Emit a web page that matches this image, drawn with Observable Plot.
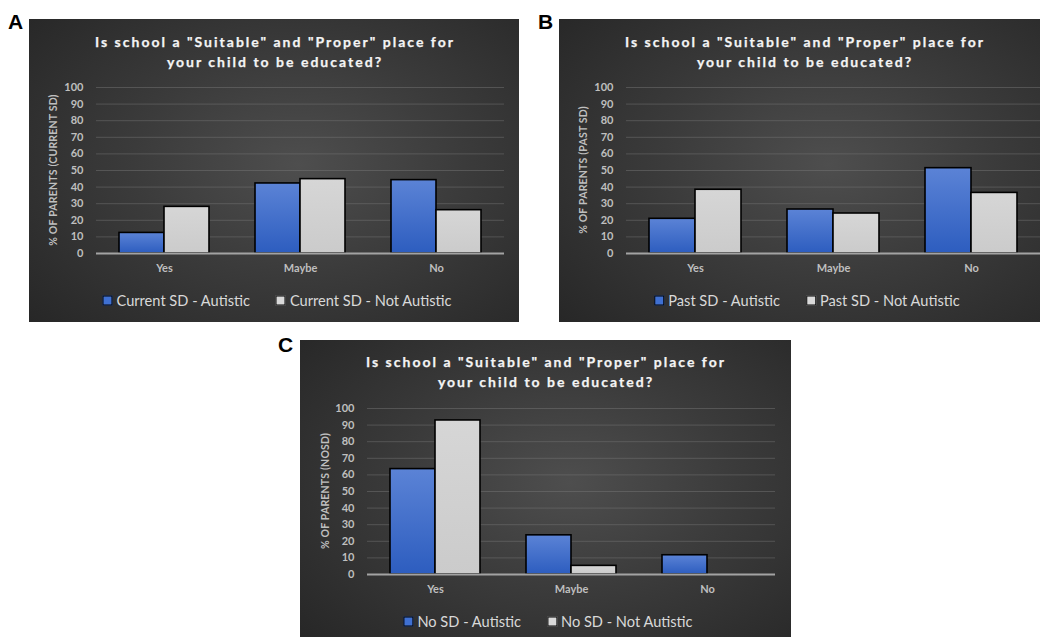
<!DOCTYPE html>
<html>
<head>
<meta charset="utf-8">
<script src="https://cdn.jsdelivr.net/npm/d3@7"></script>
<script src="https://cdn.jsdelivr.net/npm/@observablehq/plot@0.6"></script>
<style>
  html, body { margin: 0; padding: 0; background: #ffffff; }
  body { width: 1040px; height: 637px; overflow: hidden; position: relative; font-family: Lato, "Open Sans", sans-serif; }
  .tag { position: absolute; font-family: "Liberation Sans", Arial, sans-serif; font-weight: bold; font-size: 21px; color: #000; line-height: 1; }
  .panel { position: absolute; overflow: hidden;
    background: radial-gradient(ellipse 75% 80% at 55% 48%, #4e4e4e 0%, #3b3b3b 45%, #262626 100%); }
  .panel svg { position: absolute; left: 0; top: 0; overflow: visible; }
  .title { position: absolute; left: 0; text-align: center; color: #f4f4f4; font-weight: bold; font-size: 14px; line-height: 19.5px; white-space: nowrap; -webkit-text-stroke: 0.25px #f4f4f4; }
  .ylab { position: absolute; color: #bfbfbf; font-weight: bold; font-size: 10.5px; white-space: nowrap; transform: translate(-50%, -50%) rotate(-90deg); }
  .legend { position: absolute; display: flex; align-items: center; color: #d9d9d9; white-space: nowrap; transform: translate(-50%, -50%); }
  .legend .item { display: flex; align-items: center; }
  .legend .sw { width: 8px; height: 8px; border: 1.5px solid #000; margin-right: 4px; }
</style>
</head>
<body>
<svg width="0" height="0" style="position:absolute">
  <defs>
    <linearGradient id="blueGrad" x1="0" y1="0" x2="0" y2="1">
      <stop offset="0" stop-color="#5b83d6"/>
      <stop offset="1" stop-color="#2d5dbf"/>
    </linearGradient>
    <linearGradient id="grayGrad" x1="0" y1="0" x2="0" y2="1">
      <stop offset="0" stop-color="#d6d6d6"/>
      <stop offset="1" stop-color="#cbcbcb"/>
    </linearGradient>
  </defs>
</svg>
<script>
// ---- data ----
const categories = ["Yes", "Maybe", "No"];
const yTicks = [0, 10, 20, 30, 40, 50, 60, 70, 80, 90, 100];
const titleLines = ['Is school a "Suitable" and "Proper" place for', 'your child to be educated?'];

const currentAutistic = [12.4, 42.2, 44.2];
const currentNotAutistic = [28.1, 44.8, 26.1];
const pastAutistic = [20.9, 26.5, 51.4];
const pastNotAutistic = [38.4, 24.1, 36.5];
const noSdAutistic = [63.5, 23.6, 11.6];
const noSdNotAutistic = [92.8, 5.2, 0];

const seriesA = ["Current SD - Autistic", "Current SD - Not Autistic"];
const seriesB = ["Past SD - Autistic", "Past SD - Not Autistic"];
const seriesC = ["No SD - Autistic", "No SD - Not Autistic"];
const yLabels = ["% OF PARENTS (CURRENT SD)", "% OF PARENTS (PAST SD)", "% OF PARENTS (NOSD)"];
const panelTags = ["A", "B", "C"];

// ---- layout ----
const panels = [
  {tag: panelTags[0], tagX: 8, tagY: 11, left: 29, top: 19, width: 490, height: 303, mL: 67, mR: 15, mT: 68, mB: 69,
   a: currentAutistic, n: currentNotAutistic, names: seriesA, yLabel: yLabels[0], legendY: 281, titleY: 13, ylabX: 24},
  {tag: panelTags[1], tagX: 538, tagY: 11, left: 559, top: 19, width: 490, height: 303, mL: 67, mR: 9, mT: 68, mB: 69,
   a: pastAutistic, n: pastNotAutistic, names: seriesB, yLabel: yLabels[1], legendY: 281, titleY: 13, ylabX: 24},
  {tag: panelTags[2], tagX: 278, tagY: 334, left: 300, top: 340, width: 491, height: 297, mL: 66, mR: 16, mT: 68, mB: 63,
   a: noSdAutistic, n: noSdNotAutistic, names: seriesC, yLabel: yLabels[2], legendY: 281, titleY: 12, ylabX: 25}
];

const canvas = document.createElement("canvas");
const ctx = canvas.getContext("2d");
function textWidth(t, font) { ctx.font = font; return ctx.measureText(t).width; }

// spacing for the vertical axis title, fitted so panel A's label spans ~152px
const ylabSpacing = (152 - textWidth(yLabels[0], "bold 10.5px Lato")) / yLabels[0].length;

for (const p of panels) {
  const tag = document.createElement("div");
  tag.className = "tag";
  tag.textContent = p.tag;
  tag.style.left = p.tagX + "px";
  tag.style.top = p.tagY + "px";
  document.body.appendChild(tag);

  const div = document.createElement("div");
  div.className = "panel";
  Object.assign(div.style, {left: p.left + "px", top: p.top + "px", width: p.width + "px", height: p.height + "px"});
  document.body.appendChild(div);

  const rows = [];
  categories.forEach((c, i) => {
    rows.push({category: c, series: "Autistic", value: p.a[i]});
    rows.push({category: c, series: "Not Autistic", value: p.n[i]});
  });

  const chart = Plot.plot({
    width: p.width,
    height: p.height,
    marginLeft: p.mL, marginRight: p.mR, marginTop: p.mT, marginBottom: p.mB,
    style: {background: "transparent", color: "#bfbfbf", fontFamily: "Lato, 'Open Sans', sans-serif", overflow: "visible"},
    fx: {domain: categories, padding: 0, label: null},
    x: {domain: ["Autistic", "Not Autistic"], paddingInner: 0, paddingOuter: 0.5, axis: null},
    y: {domain: [0, 100], label: null},
    marks: [
      Plot.ruleY(yTicks.filter(d => d > 0), {stroke: "#7a7a7a", strokeOpacity: 0.45, strokeWidth: 1}),
      Plot.barY(rows.filter(d => d.series === "Autistic"), {fx: "category", x: "series", y: "value", fill: "url(#blueGrad)", stroke: "#000", strokeWidth: 1.6}),
      Plot.barY(rows.filter(d => d.series === "Not Autistic"), {fx: "category", x: "series", y: "value", fill: "url(#grayGrad)", stroke: "#000", strokeWidth: 1.6}),
      Plot.ruleY([0], {stroke: "#a3a3a3", strokeWidth: 2}),
      Plot.axisY({ticks: yTicks, tickSize: 0, tickPadding: 13, label: null, fontSize: 11, fontWeight: "bold", fill: "#bfbfbf"}),
      Plot.axisFx({anchor: "bottom", tickSize: 0, tickPadding: 11, label: null, fontSize: 11, fontWeight: "bold", fill: "#bfbfbf"})
    ]
  });
  div.appendChild(chart);

  // title
  const title = document.createElement("div");
  title.className = "title";
  const natural = textWidth(titleLines[0], "bold 14px Lato");
  const spacing = (360 - natural) / titleLines[0].length;
  title.style.letterSpacing = spacing.toFixed(2) + "px";
  title.style.width = "492px";
  title.style.top = p.titleY + "px";
  title.innerHTML = titleLines.join("<br>");
  div.appendChild(title);

  // y label
  const yl = document.createElement("div");
  yl.className = "ylab";
  yl.textContent = p.yLabel;
  yl.style.letterSpacing = ylabSpacing.toFixed(2) + "px";
  yl.style.left = p.ylabX + "px";
  yl.style.top = (p.mT + (p.height - p.mT - p.mB) / 2) + "px";
  div.appendChild(yl);

  // legend
  const lfs = 16 * 134 / textWidth(seriesA[0], "16px Lato");
  const leg = document.createElement("div");
  leg.className = "legend";
  leg.style.left = "248px";
  leg.style.top = p.legendY + "px";
  leg.style.fontSize = lfs.toFixed(2) + "px";
  p.names.forEach((name, i) => {
    const item = document.createElement("div");
    item.className = "item";
    if (i > 0) item.style.marginLeft = "26px";
    const sw = document.createElement("div");
    sw.className = "sw";
    sw.style.background = i === 0 ? "#3f70d2" : "#d9d9d9";
    const tx = document.createElement("span");
    tx.textContent = name;
    item.appendChild(sw);
    item.appendChild(tx);
    leg.appendChild(item);
  });
  div.appendChild(leg);
}
</script>
</body>
</html>
